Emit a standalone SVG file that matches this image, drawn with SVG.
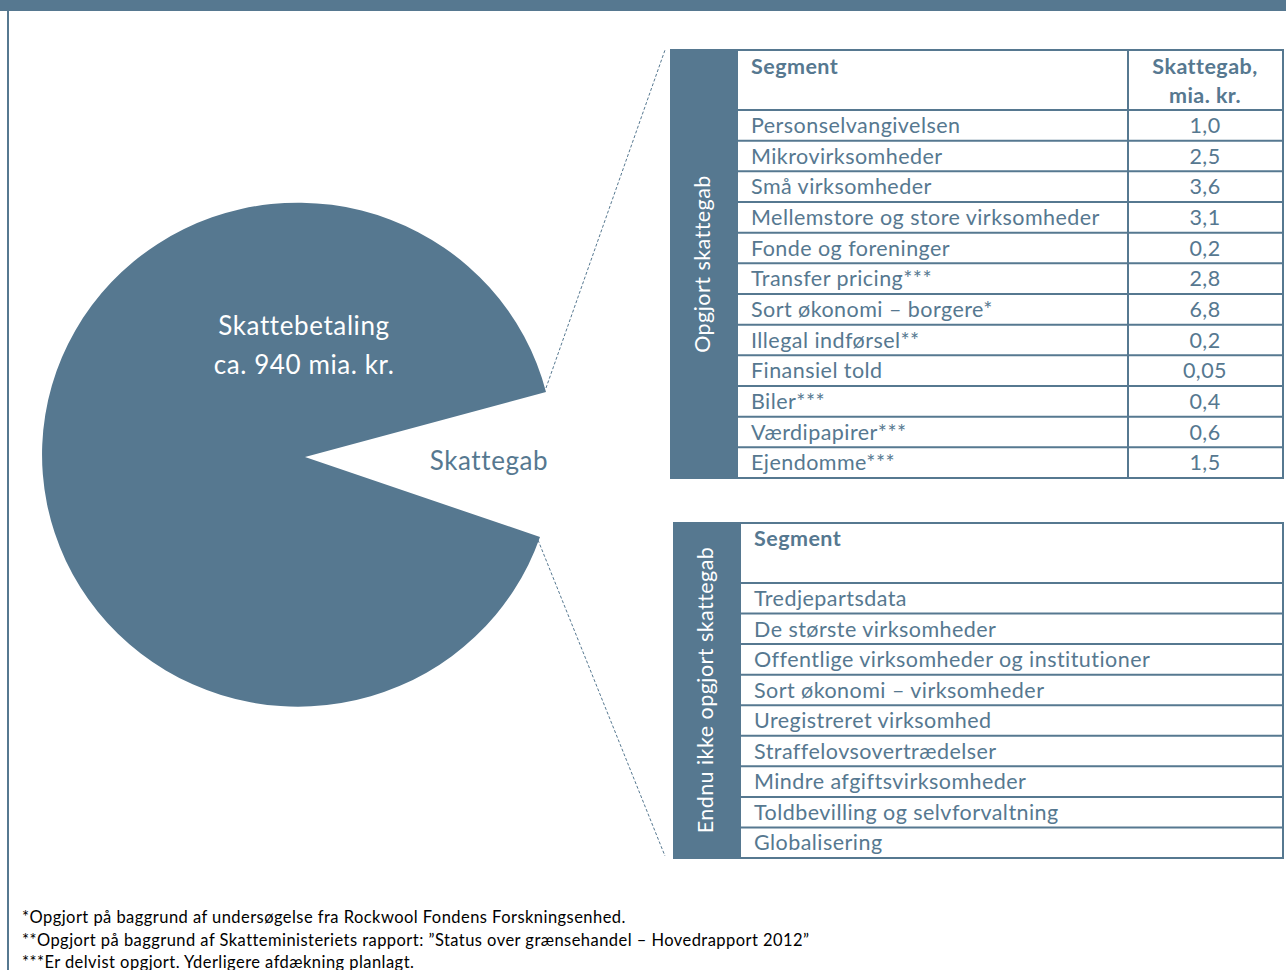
<svg xmlns="http://www.w3.org/2000/svg" width="1286" height="970" viewBox="0 0 1286 970">
<style>
.c{fill:#567890}
.t{font-family:Lato,"Open Sans","Liberation Sans",sans-serif;fill:#567890;font-size:21.5px;letter-spacing:0.45px}
.big{font-size:26px;letter-spacing:0.6px}
.b{font-weight:bold}
.w{fill:#ffffff}
.ln{stroke:#567890;stroke-width:2;fill:none}
.fn{font-family:Lato,"Liberation Sans",sans-serif;font-size:16.5px;letter-spacing:0.45px;fill:#000}
.dash{stroke:#567890;stroke-width:1;stroke-dasharray:3 2;fill:none}
</style>
<rect x="0" y="0" width="1286" height="11" class="c"/>
<line x1="8" y1="10" x2="8" y2="970" class="ln"/>

<g id="pie">
<path class="c" d="M305,457 L546,392 A256 252 0 1 0 540,537 Z"/>
<text class="t big w" x="304" y="335" text-anchor="middle">Skattebetaling</text>
<text class="t big w" x="304" y="374" text-anchor="middle">ca. 940 mia. kr.</text>
</g>
<g id="gap-label">
<text class="t big" x="489" y="470" text-anchor="middle">Skattegab</text>
</g>

<g id="connectors">
<line x1="546" y1="388" x2="665" y2="50" class="dash"/>
<line x1="538" y1="540" x2="665" y2="856" class="dash"/>
</g>

<g id="table-opgjort">
<rect x="670" y="49" width="68" height="430" class="c"/>
<text class="t w" transform="translate(710,264) rotate(-90)" text-anchor="middle">Opgjort skattegab</text>
<rect x="737" y="50" width="546" height="428" class="ln"/>
<line x1="1128" y1="50" x2="1128" y2="478" class="ln"/>
<g class="ln">
<line x1="737" y1="110" x2="1283" y2="110"/>
<line x1="737" y1="140.7" x2="1283" y2="140.7"/>
<line x1="737" y1="171.3" x2="1283" y2="171.3"/>
<line x1="737" y1="202" x2="1283" y2="202"/>
<line x1="737" y1="232.7" x2="1283" y2="232.7"/>
<line x1="737" y1="263.3" x2="1283" y2="263.3"/>
<line x1="737" y1="294" x2="1283" y2="294"/>
<line x1="737" y1="324.7" x2="1283" y2="324.7"/>
<line x1="737" y1="355.3" x2="1283" y2="355.3"/>
<line x1="737" y1="386" x2="1283" y2="386"/>
<line x1="737" y1="416.7" x2="1283" y2="416.7"/>
<line x1="737" y1="447.3" x2="1283" y2="447.3"/>
</g>
<text class="t b" x="751" y="74">Segment</text>
<text class="t b" x="1205" y="74" text-anchor="middle">Skattegab,</text>
<text class="t b" x="1205" y="103" text-anchor="middle">mia. kr.</text>
<g class="t">
<text x="751" y="133">Personselvangivelsen</text>
<text x="751" y="163.7">Mikrovirksomheder</text>
<text x="751" y="194.3">Små virksomheder</text>
<text x="751" y="225">Mellemstore og store virksomheder</text>
<text x="751" y="255.7">Fonde og foreninger</text>
<text x="751" y="286.3">Transfer pricing***</text>
<text x="751" y="317">Sort økonomi – borgere*</text>
<text x="751" y="347.7">Illegal indførsel**</text>
<text x="751" y="378.3">Finansiel told</text>
<text x="751" y="409">Biler***</text>
<text x="751" y="439.7">Værdipapirer***</text>
<text x="751" y="470.3">Ejendomme***</text>
</g>
<g class="t" text-anchor="middle">
<text x="1205" y="133">1,0</text>
<text x="1205" y="163.7">2,5</text>
<text x="1205" y="194.3">3,6</text>
<text x="1205" y="225">3,1</text>
<text x="1205" y="255.7">0,2</text>
<text x="1205" y="286.3">2,8</text>
<text x="1205" y="317">6,8</text>
<text x="1205" y="347.7">0,2</text>
<text x="1205" y="378.3">0,05</text>
<text x="1205" y="409">0,4</text>
<text x="1205" y="439.7">0,6</text>
<text x="1205" y="470.3">1,5</text>
</g>
</g>

<g id="table-ikke-opgjort">
<rect x="673" y="522" width="68" height="337" class="c"/>
<text class="t w" transform="translate(713,690) rotate(-90)" text-anchor="middle">Endnu ikke opgjort skattegab</text>
<rect x="740" y="523" width="543" height="335" class="ln"/>
<g class="ln">
<line x1="740" y1="583" x2="1283" y2="583"/>
<line x1="740" y1="613.6" x2="1283" y2="613.6"/>
<line x1="740" y1="644.1" x2="1283" y2="644.1"/>
<line x1="740" y1="674.7" x2="1283" y2="674.7"/>
<line x1="740" y1="705.2" x2="1283" y2="705.2"/>
<line x1="740" y1="735.8" x2="1283" y2="735.8"/>
<line x1="740" y1="766.3" x2="1283" y2="766.3"/>
<line x1="740" y1="796.9" x2="1283" y2="796.9"/>
<line x1="740" y1="827.4" x2="1283" y2="827.4"/>
</g>
<text class="t b" x="754" y="546">Segment</text>
<g class="t">
<text x="754" y="606">Tredjepartsdata</text>
<text x="754" y="636.6">De største virksomheder</text>
<text x="754" y="667.1">Offentlige virksomheder og institutioner</text>
<text x="754" y="697.7">Sort økonomi – virksomheder</text>
<text x="754" y="728.2">Uregistreret virksomhed</text>
<text x="754" y="758.8">Straffelovsovertrædelser</text>
<text x="754" y="789.3">Mindre afgiftsvirksomheder</text>
<text x="754" y="819.9">Toldbevilling og selvforvaltning</text>
<text x="754" y="850.4">Globalisering</text>
</g>
</g>

<g id="footnotes" class="fn">
<text x="22" y="923">*Opgjort på baggrund af undersøgelse fra Rockwool Fondens Forskningsenhed.</text>
<text x="22" y="946">**Opgjort på baggrund af Skatteministeriets rapport: ”Status over grænsehandel – Hovedrapport 2012”</text>
<text x="22" y="968">***Er delvist opgjort. Yderligere afdækning planlagt.</text>
</g>
</svg>
